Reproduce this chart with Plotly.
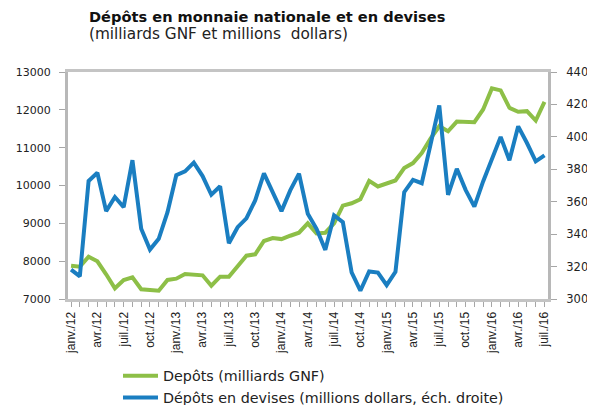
import plotly.graph_objects as go

months = ["janv.", "févr.", "mars", "avr.", "mai", "juin", "juil.", "août", "sept.", "oct.", "nov.", "déc."]
labels = [f"{m}/{y}" for y in ["12", "13", "14", "15", "16"] for m in months][:55]
idx = list(range(len(labels)))

depots_gnf = [7881, 7854, 8119, 7997, 7653, 7283, 7503, 7574, 7257, 7230, 7220, 7503,
              7537, 7661, 7635, 7626, 7352, 7590, 7590, 7854, 8145, 8181, 8533, 8610,
              8583, 8672, 8752, 9000, 8734, 8752, 9000, 9469, 9531, 9637, 10124, 9974,
              10044, 10133, 10460, 10593, 10858, 11239, 11566, 11434, 11690, 11672, 11672, 12009,
              12566, 12513, 12053, 11947, 11965, 11717, 12212]
depots_devises = [318.1, 314.0, 372.8, 377.9, 354.2, 362.9, 356.7, 385.6, 343.3, 330.5, 337.1, 353.6,
                  376.3, 378.7, 384.1, 375.8, 364.3, 369.5, 334.4, 344.3, 349.7, 360.8, 377.5, 366.0,
                  354.2, 367.0, 377.3, 352.6, 343.3, 330.3, 351.5, 347.4, 316.4, 305.1, 317.0, 316.3,
                  308.5, 316.7, 365.9, 373.5, 371.4, 395.2, 419.3, 364.2, 380.3, 367.3, 357.0, 372.5,
                  385.9, 400.0, 385.5, 406.5, 396.2, 384.9, 388.6]

tick_idx = idx[::3]
tick_text = [labels[i] for i in tick_idx]

green = "#8DBF47"
blue = "#1A7EC1"
font = "DejaVu Sans"

fig = go.Figure()
fig.add_trace(go.Scatter(x=idx, y=depots_gnf, mode="lines", name="Depôts (milliards GNF)",
                         line=dict(color=green, width=4), yaxis="y"))
fig.add_trace(go.Scatter(x=idx, y=depots_devises, mode="lines",
                         name="Dépôts en devises (millions dollars, éch. droite)",
                         line=dict(color=blue, width=4), yaxis="y2"))

axis_col = "#a6a6a6"
# page offset of 8px: figure coordinates = screen coordinates - 8
L, T, R, B = 60, 64, 540, 291
fig.update_layout(
    width=595, height=405,
    margin=dict(l=L, r=595 - R, t=T, b=405 - B, autoexpand=False),
    paper_bgcolor="white", plot_bgcolor="white",
    font=dict(family=font, size=11, color="#222222"),
    showlegend=True,
    legend=dict(xref="container", yref="container", x=110 / 595, y=(405 - 352) / 405,
                xanchor="left", yanchor="top", orientation="v",
                font=dict(family=font, size=14.3, color="#222222"), tracegroupgap=6,
                itemwidth=35, bgcolor="rgba(0,0,0,0)"),
    xaxis=dict(range=[-0.35, 54.4], tickmode="array", tickvals=tick_idx, ticktext=tick_text,
               tickangle=-90, ticks="outside", ticklen=5, tickcolor=axis_col, automargin=False,
               tickfont=dict(family="Liberation Sans Narrow, Liberation Sans", size=12, color="#222222"),
               minor=dict(dtick=1, ticks="outside", ticklen=5, tickcolor=axis_col, tick0=0),
               showgrid=False, zeroline=False, showline=True, linecolor="#c4c4c4", linewidth=3,
               mirror=True),
    yaxis=dict(range=[7000, 13000], dtick=1000, tickformat="d", ticks="outside", ticklen=6,
               tickcolor=axis_col, automargin=False, ticklabelstandoff=6,
               showgrid=False, zeroline=False, showline=True, linecolor="#b8b8b8", linewidth=3,
               tickfont=dict(family=font, size=11, color="#222222")),
    yaxis2=dict(range=[300, 440], dtick=20, tickformat="d", overlaying="y", side="right",
                ticks="outside", automargin=False, ticklabelstandoff=7,
                ticklen=6, tickcolor=axis_col, showgrid=False, zeroline=False, showline=True,
                linecolor="#b8b8b8", linewidth=3,
                tickfont=dict(family=font, size=11.5, color="#222222")),
)

fig.add_annotation(text="<b>Dépôts en monnaie nationale et en devises</b>", xref="paper", yref="paper",
                   x=(79 - L) / 480, y=1 + (T - 8) / 227, xanchor="left", yanchor="middle",
                   showarrow=False, font=dict(family=font, size=14.6, color="#111111"))
fig.add_annotation(text="(milliards GNF et millions  dollars)", xref="paper", yref="paper",
                   x=(79 - L) / 480, y=1 + (T - 26) / 227, xanchor="left", yanchor="middle",
                   showarrow=False, font=dict(family=font, size=15.3, color="#222222"))

fig.write_html("out.html")
